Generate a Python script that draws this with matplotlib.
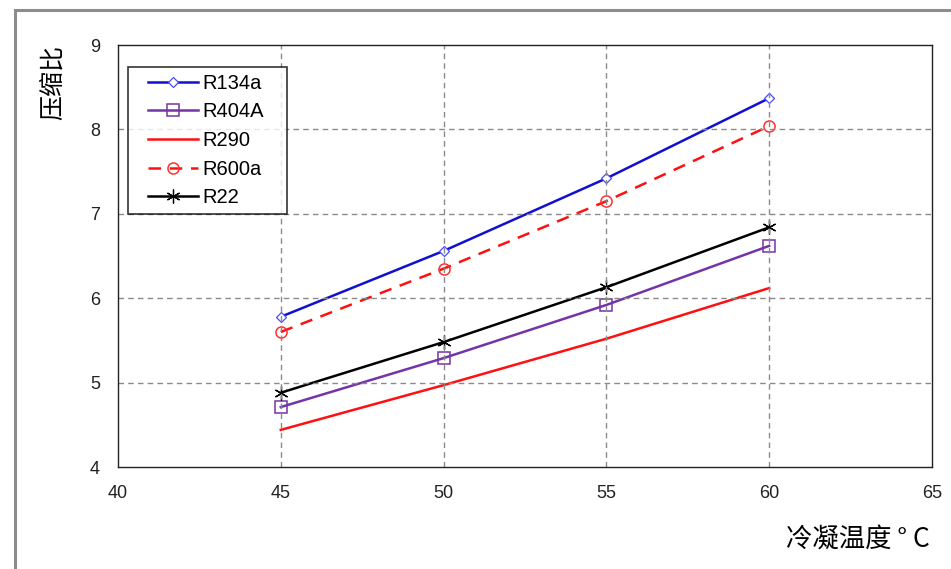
import matplotlib
matplotlib.use("Agg")
import matplotlib.pyplot as plt
from matplotlib.patches import Rectangle
from matplotlib.legend_handler import HandlerLine2D

# Dados
temperaturas = [45, 50, 55, 60]
r134a = [5.78, 6.56, 7.42, 8.37]
r404a = [4.71, 5.29, 5.92, 6.62]
r290 = [4.44, 4.97, 5.52, 6.12]
r600a = [5.60, 6.35, 7.15, 8.04]
r22 = [4.88, 5.48, 6.13, 6.84]

xticks = [40, 45, 50, 55, 60, 65]
yticks = [4, 5, 6, 7, 8, 9]

plt.rcParams['font.family'] = ['Liberation Sans', 'DejaVu Sans']

fig = plt.figure(figsize=(9.51, 5.69), dpi=100)
# moldura cinza externa
fig.patches.append(Rectangle((15 / 951, -0.05), 1.2, 0.05 + 1 - 10 / 569,
                             transform=fig.transFigure, fill=False,
                             edgecolor='#8c8c8c', linewidth=2.2))

ax = fig.add_axes([118 / 951, 1 - 467 / 569, (932 - 118) / 951, (467 - 45) / 569])

ax.plot(temperaturas, r134a, color='#1010d0', lw=1.8, marker='D', ms=5,
        mfc='white', mec='#4a4aff', mew=0.9, label='R134a')
ax.plot(temperaturas, r404a, color='#7434a8', lw=1.8, marker='s', ms=8,
        mfc='none', mec='#7434a8', mew=1.1, label='R404A')
ax.plot(temperaturas, r290, color='#ff1010', lw=1.8, label='R290')
ax.plot(temperaturas, r600a, color='#ff1010', lw=1.8, ls=(0, (5, 3.5)), marker='o', ms=8,
        mfc='none', mec='#ff3030', mew=1.1, label='R600a')
ax.plot(temperaturas, r22, color='black', lw=1.8, marker=(6, 2, 0), ms=10,
        mew=0.9, label='R22')

ax.set_xlim(40, 65)
ax.set_ylim(4, 9)
ax.set_xticks(xticks)
ax.set_yticks(yticks)
ax.tick_params(length=0, labelsize=13, colors='#222222')
ax.tick_params(axis='x', pad=13)
ax.tick_params(axis='y', pad=13)

for x in [45, 50, 55, 60]:
    ax.axvline(x, color='#8a8a8a', ls=(0, (4, 3)), lw=1)
for y in [5, 6, 7, 8]:
    ax.axhline(y, color='#8a8a8a', ls=(0, (4, 3)), lw=1)

for s in ax.spines.values():
    s.set_color('#222222')
    s.set_linewidth(1)

leg = ax.legend(loc='upper left', bbox_to_anchor=(0.0123, 0.5, 0.1953, 0.448),
                mode='expand', fontsize=14.5,
                frameon=True, fancybox=False, edgecolor='black',
                handlelength=3.15, handletextpad=0.2, labelspacing=0.48,
                borderpad=0.33, borderaxespad=0,
                handler_map={plt.Line2D: HandlerLine2D(xpad=0.67)})
leg.get_frame().set_linewidth(1.2)

cjk = ['Noto Sans CJK SC', 'DejaVu Sans']
fig.text(53 / 951, 1 - 83 / 569, '压缩比', rotation=90, ha='center', va='center',
         fontsize=18, family=cjk, fontweight='light')
fig.text(930 / 951, 1 - 540 / 569, '冷凝温度 ° C', ha='right', va='center',
         fontsize=19, family=cjk, fontweight='light')

fig.savefig('out.png', dpi=100)
